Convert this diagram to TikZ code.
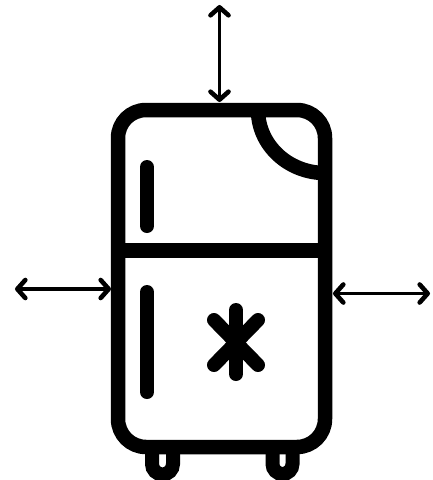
\documentclass[tikz,border=0pt]{standalone}
\usetikzlibrary{arrows.meta}

\begin{document}
\begin{tikzpicture}[
            x=1pt, y=-1pt,
            line cap=round,
            wall/.style={line width=14.5pt, black},
            stroke/.style={line width=14pt, black},
            flow/.style={
                line width=3.8pt,
                {Straight Barb[length=8pt, width=18pt, round, line width=4.6pt]}-{Straight Barb[length=8pt, width=18pt, round, line width=4.6pt]}
            },
        ]
        \useasboundingbox (0,0) rectangle (432,480);

        \coordinate (topOut) at (219.5,5);
        \coordinate (topIn) at (219.5,102);
        \coordinate (leftOut) at (15,289);
        \coordinate (leftIn) at (111,289);
        \coordinate (rightIn) at (333,293.5);
        \coordinate (rightOut) at (430,293.5);

        % feet, cut off by the page edge
        \begin{scope}
            \clip (0,0) rectangle (432,480);
            \draw[wall, line width=14pt, line cap=butt] (152,447) -- (152,464) arc[start angle=180, end angle=0, radius=10.5] -- (173,447);
            \draw[wall, line width=14pt, line cap=butt] (272.5,447) -- (272.5,464) arc[start angle=180, end angle=0, radius=10] -- (292.5,447);
        \end{scope}

        % cabinet
        \draw[wall, fill=white, rounded corners=28pt] (118,110) rectangle (325,447);
        \draw[wall, line cap=butt] (118,250.5) -- (325,250.5);
        \draw[wall, line cap=butt] (258,110) arc[start angle=180, end angle=90, x radius=67, y radius=63];

        % handles
        \draw[stroke] (147,167) -- (147,226);
        \draw[stroke] (147,292) -- (147,392);

        % snow mark
        \draw[stroke] (236,310) -- (236,374);
        \draw[stroke] (214,320) -- (258,365);
        \draw[stroke] (258,320) -- (214,365);

        % arrows
        \draw[flow] (topOut) -- (topIn);
        \draw[flow] (leftOut) -- (leftIn);
        \draw[flow] (rightIn) -- (rightOut);
        \end{tikzpicture}
\end{document}
